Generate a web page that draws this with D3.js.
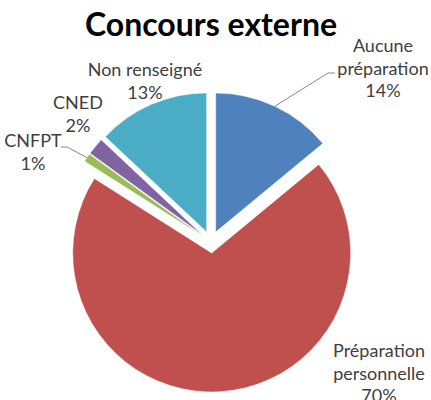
<!DOCTYPE html>
<html>
<head>
<meta charset="utf-8">
<script src="https://cdn.jsdelivr.net/npm/d3@7"></script>
<style>
  body { margin: 0; background: #fff; }
  svg { display: block; }
  .lbl { font-family: Lato, "Open Sans", sans-serif; font-size: 18px; fill: #404040; }
</style>
</head>
<body>
<div id="chart"></div>
<script>
// data (clockwise from 12 o'clock)
var categories = ["Aucune préparation", "Préparation personnelle", "CNFPT", "CNED", "Non renseigné"];
var values = [14, 70, 1, 2, 13];
var colors = ["#4F81BD", "#C0504D", "#9BBB59", "#8064A2", "#4BACC6"];
var labelLines = [["Aucune", "préparation", "14%"], ["Préparation", "personnelle", "70%"],
                  ["CNFPT", "1%"], ["CNED", "2%"], ["Non renseigné", "13%"]];

var width = 431, height = 400;
var cx = 211, cy = 242, radius = 139, explode = 11;

// where each label block sits (centre x, first baseline) and its leader elbow (if any)
var labelPos = [
    {x: 383, y: 52, leader: [[335, 73], [328, 73]]},
    {x: 379, y: 357},
    {x: 33, y: 147, leader: [[61, 147], [67, 147]]},
    {x: 78, y: 109},
    {x: 145, y: 76}
];

var svg = d3.select("#chart").append("svg")
    .attr("width", width)
    .attr("height", height);

svg.append("text")
    .attr("x", 211)
    .attr("y", 36)
    .attr("text-anchor", "middle")
    .style("font-family", "Lato, 'Open Sans', sans-serif")
    .style("font-weight", "bold")
    .style("font-size", "32px")
    .style("fill", "#000")
    .text("Concours externe");

var pie = d3.pie().sort(null).value(function(d) { return d; });
var arcs = pie(values);
var arc = d3.arc().innerRadius(0).outerRadius(radius);

function offset(d) {
    var a = (d.startAngle + d.endAngle) / 2;
    return [explode * Math.sin(a), -explode * Math.cos(a)];
}

var g = svg.append("g").attr("transform", "translate(" + cx + "," + cy + ")");

g.selectAll("path.slice")
    .data(arcs)
    .enter().append("path")
    .attr("class", "slice")
    .attr("d", arc)
    .attr("fill", function(d, i) { return colors[i]; })
    .attr("stroke", "#fff")
    .attr("stroke-width", 0.5)
    .attr("transform", function(d) { var o = offset(d); return "translate(" + o[0] + "," + o[1] + ")"; });

// leader lines start on the middle of the outer arc
arcs.forEach(function(d, i) {
    var p = labelPos[i];
    if (!p.leader) return;
    var a = (d.startAngle + d.endAngle) / 2;
    var o = offset(d);
    var sx = cx + o[0] + radius * Math.sin(a);
    var sy = cy + o[1] - radius * Math.cos(a);
    var pts = p.leader.concat([[sx, sy]]);
    svg.append("path")
        .attr("d", d3.line()(pts))
        .attr("fill", "none")
        .attr("stroke", "#868686")
        .attr("stroke-width", 1);
});

labelLines.forEach(function(lines, i) {
    var p = labelPos[i];
    var t = svg.append("text")
        .attr("class", "lbl")
        .attr("text-anchor", "middle");
    lines.forEach(function(s, j) {
        t.append("tspan")
            .attr("x", p.x)
            .attr("y", p.y + j * 22.5)
            .text(s);
    });
});
</script>
</body>
</html>
